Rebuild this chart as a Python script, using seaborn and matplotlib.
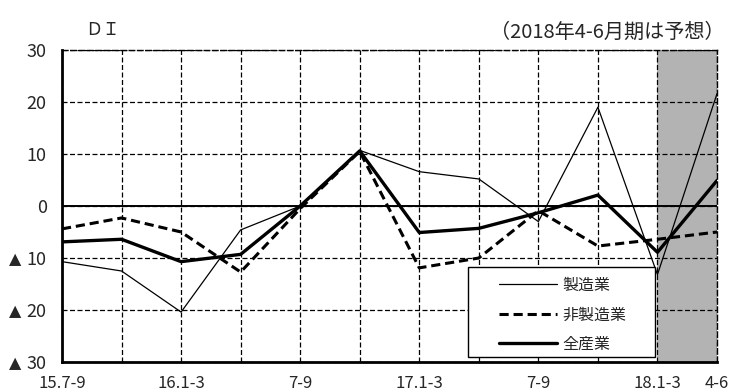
import matplotlib
matplotlib.use("Agg")
import matplotlib.pyplot as plt
import matplotlib.patches as mpatches
import matplotlib.transforms as mtransforms
import seaborn as sns
import pandas as pd

# Quarters (15.7-9 through the 2018 4-6 forecast)
quarters = ["15.7-9", "10-12", "16.1-3", "4-6", "7-9", "10-12",
            "17.1-3", "4-6", "7-9", "10-12", "18.1-3", "4-6"]
tick_labels = ["15.7-9", "", "16.1-3", "", "7-9", "",
               "17.1-3", "", "7-9", "", "18.1-3", "4-6"]

manufacturing = [-10.7, -12.5, -20.4, -4.6, 0.0, 10.7, 6.6, 5.2, -3.0, 19.0, -13.2, 21.6]
non_manufacturing = [-4.4, -2.3, -5.0, -12.7, -0.5, 10.5, -11.9, -10.0, -0.9, -7.7, -6.4, -5.0]
all_industries = [-6.9, -6.4, -10.7, -9.3, 0.0, 10.6, -5.1, -4.3, -1.3, 2.1, -8.9, 4.9]

y_ticks = [30, 20, 10, 0, -10, -20, -30]
y_tick_labels = ["30", "20", "10", "0", "▲10", "▲20", "▲30"]

sns.set_style("white")
plt.rcParams["font.family"] = ["Noto Sans CJK JP", "DejaVu Sans"]

W, H = 731, 392
fig = plt.figure(figsize=(W / 100, H / 100), dpi=100)
L, R, T, B = 62, 717, 50, 362
ax = fig.add_axes([L / W, 1 - B / H, (R - L) / W, (B - T) / H])

x = list(range(len(quarters)))
df = pd.DataFrame({"x": x, "m": manufacturing, "n": non_manufacturing, "a": all_industries})

# forecast period shading
ax.axvspan(10, 11, color="#b3b3b3", zorder=0.5, lw=0)

sns.lineplot(data=df, x="x", y="m", ax=ax, color="black", lw=0.9, label="製造業", zorder=3)
sns.lineplot(data=df, x="x", y="n", ax=ax, color="black", lw=2.2,
             label="非製造業", zorder=3).lines[-1].set_dashes((3, 1.6))
sns.lineplot(data=df, x="x", y="a", ax=ax, color="black", lw=2.4, label="全産業", zorder=4)

ax.axhline(0, color="black", lw=1.4, zorder=2)

ax.set_xlim(0, 11)
ax.set_ylim(-30, 30)
ax.set_xticks(x)
ax.set_xticklabels(tick_labels, fontsize=12)
ax.set_yticks(y_ticks)
# numbers as tick labels; the ▲ (minus sign) is drawn separately in a smaller size
ax.set_yticklabels([s.replace("▲", "") for s in y_tick_labels], fontsize=13)
ax.set_xlabel("")
ax.set_ylabel("")
ax.tick_params(axis="y", length=0, pad=11)
ax.tick_params(axis="x", length=0, pad=9)

tr = mtransforms.blended_transform_factory(fig.transFigure, ax.transData)
for v, s in zip(y_ticks, y_tick_labels):
    if s.startswith("▲"):
        fig.text(15 / W, v - 0.25, "▲", transform=tr, fontsize=11.5, ha="center", va="center",
                 family=["DejaVu Sans"])

ax.set_axisbelow("line")
ax.grid(True, color="black", lw=0.9, linestyle=(0, (4, 2)), zorder=1.5)

for side in ["left", "bottom"]:
    ax.spines[side].set_linewidth(2.0)
    ax.spines[side].set_color("black")
for side in ["top", "right"]:
    ax.spines[side].set_linewidth(1.0)
    ax.spines[side].set_color("black")
    ax.spines[side].set_linestyle((0, (4, 2)))

# legend box
def ax_frac(px, py):
    return (px - L) / (R - L), (B - py) / (B - T)

x0, y0 = ax_frac(468, 357)
x1, y1 = ax_frac(655, 267)
ax.add_patch(mpatches.Rectangle((x0, y0), x1 - x0, y1 - y0, transform=ax.transAxes,
                                facecolor="white", edgecolor="black", lw=1.0, zorder=4.9))
ax.get_legend().remove()
handles, labels = ax.get_legend_handles_labels()
lx, ly = ax_frac(499, 277)
leg = ax.legend(handles, labels, loc="upper left", bbox_to_anchor=(lx, ly),
                fontsize=11.5, frameon=False, handlelength=3.6, borderpad=0,
                labelspacing=0.78, handletextpad=0.35, borderaxespad=0)
leg.set_zorder(5)

fig.text(85 / W, 1 - 30 / H, "ＤＩ", fontsize=12.5, va="center", ha="left")
fig.text(725 / W, 1 - 32 / H, "（2018年4-6月期は予想）", fontsize=14.5, va="center", ha="right")

fig.savefig("out.png", dpi=100)
